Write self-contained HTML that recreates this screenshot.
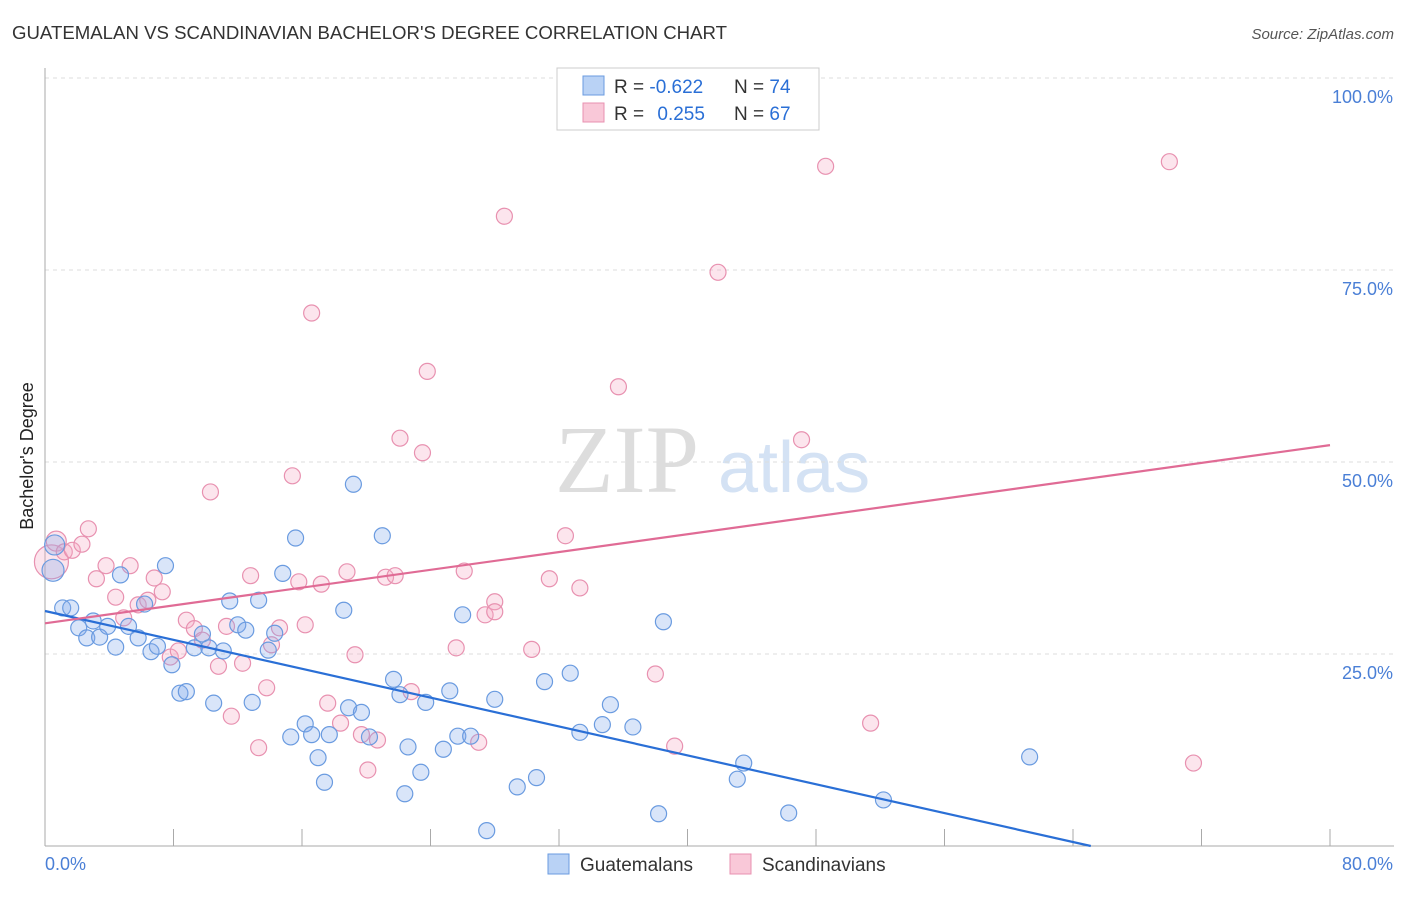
<!DOCTYPE html>
<html><head><meta charset="utf-8"><style>
body{margin:0;background:#fff;font-family:"Liberation Sans",sans-serif;}
#wrap{position:relative;width:1406px;height:892px;}
</style></head><body>
<div id="wrap">
<svg id="svg" width="1406" height="892" xmlns="http://www.w3.org/2000/svg">
<text x="12" y="39" font-size="18" fill="#333" textLength="715" lengthAdjust="spacingAndGlyphs">GUATEMALAN VS SCANDINAVIAN BACHELOR'S DEGREE CORRELATION CHART</text>
<text x="1394" y="39" font-size="15" fill="#555" text-anchor="end" font-style="italic">Source: ZipAtlas.com</text>
<text x="0" y="0" font-size="18" fill="#222" transform="translate(33,456) rotate(-90)" text-anchor="middle">Bachelor's Degree</text>
<text x="555" y="492" font-size="96" fill="#ddd" font-family="Liberation Serif,serif">ZIP</text>
<text x="718" y="492" font-size="72" fill="#d4e2f4">atlas</text>
<g id="grid"></g><g id="pts"></g><g id="lines"></g>
<rect x="557" y="68" width="262" height="62" fill="#fff" stroke="#ccc"/>
<rect x="583" y="76" width="21" height="19" fill="#b9d2f5" stroke="#6a9be0"/>
<rect x="583" y="103" width="21" height="19" fill="#f9c8d8" stroke="#e891b0"/>
<text x="614" y="93" font-size="19" fill="#333">R = <tspan fill="#2a6fd6">-0.622</tspan></text>
<text x="734" y="93" font-size="19" fill="#333">N = <tspan fill="#2a6fd6">74</tspan></text>
<text x="614" y="120" font-size="19" fill="#333">R = <tspan fill="#2a6fd6" dx="8">0.255</tspan></text>
<text x="734" y="120" font-size="19" fill="#333">N = <tspan fill="#2a6fd6">67</tspan></text>
<rect x="548" y="854" width="21" height="20" fill="#b9d2f5" stroke="#6a9be0"/>
<text x="580" y="871" font-size="19" fill="#333">Guatemalans</text>
<rect x="730" y="854" width="21" height="20" fill="#f9c8d8" stroke="#e891b0"/>
<text x="762" y="871" font-size="19" fill="#333">Scandinavians</text>
<text x="45" y="870" font-size="18" fill="#4a7fd6">0.0%</text>
<text x="1393" y="870" font-size="18" fill="#4a7fd6" text-anchor="end">80.0%</text>
</svg></div>
<script>
const yTicks=[25,50,75,100];
const yTickLabels=["25.0%","50.0%","75.0%","100.0%"];
const xTicks=[0,8,16,24,32,40,48,56,64,72,80];
const blueX=[0.5,0.6,1.1,1.6,2.1,2.6,3.0,3.4,3.9,4.4,4.7,5.2,5.8,6.2,6.6,7.0,7.5,7.9,8.4,8.8,9.3,9.8,10.2,10.5,11.1,11.5,12.0,12.5,12.9,13.3,13.9,14.3,14.8,15.3,15.6,16.2,16.6,17.0,17.4,17.7,18.6,18.9,19.2,19.7,20.2,21.0,21.7,22.1,22.4,22.6,23.4,23.7,24.8,25.2,25.7,26.0,26.5,27.5,28.0,29.4,30.6,31.1,32.7,33.3,34.7,35.2,36.6,38.2,38.5,43.1,43.5,46.3,52.2,61.3];
const blueY=[35.9,39.2,31.0,31.0,28.4,27.1,29.3,27.2,28.6,25.9,35.3,28.6,27.1,31.5,25.3,26.0,36.5,23.6,19.9,20.1,25.8,27.6,25.8,18.6,25.4,31.9,28.8,28.1,18.7,32.0,25.5,27.7,35.5,14.2,40.1,15.9,14.5,11.5,8.3,14.5,30.7,18.0,47.1,17.4,14.2,40.4,21.7,19.7,6.8,12.9,9.6,18.7,12.6,20.2,14.3,30.1,14.3,2.0,19.1,7.7,8.9,21.4,22.5,14.8,15.8,18.4,15.5,4.2,29.2,8.7,10.8,4.3,6.0,11.6];
const blueSize=[11,10];
const pinkX=[0.4,0.7,1.2,1.7,2.3,2.7,3.2,3.8,4.4,4.9,5.3,5.8,6.4,6.8,7.3,7.8,8.3,8.8,9.3,9.8,10.3,10.8,11.3,11.6,12.3,12.8,13.3,13.8,14.1,14.6,15.4,15.8,16.2,16.6,17.2,17.6,18.4,18.8,19.3,19.7,20.1,20.7,21.2,21.8,22.1,22.8,23.5,23.8,25.6,26.1,27.0,27.4,28.0,28.0,28.6,30.3,31.4,32.4,33.3,35.7,38.0,39.2,41.9,47.1,48.6,51.4,70.0,71.5];
const pinkY=[37.0,39.7,38.3,38.5,39.3,41.3,34.8,36.5,32.4,29.7,36.5,31.4,32.0,34.9,33.1,24.6,25.4,29.4,28.3,26.8,46.1,23.4,28.6,16.9,23.8,35.2,12.8,20.6,26.2,28.4,48.2,34.4,28.8,69.4,34.1,18.6,16.0,35.7,24.9,14.5,9.9,13.8,35.0,35.2,53.1,20.1,51.2,61.8,25.8,35.8,13.5,30.1,31.8,30.5,82.0,25.6,34.8,40.4,33.6,59.8,22.4,13.0,74.7,52.9,88.5,16.0,89.1,10.8];
const pinkSize=[17,10];
const blueTrend=[30.6,-0.47];
const pinkTrend=[29.0,0.29];
const NS="http://www.w3.org/2000/svg";
const X=v=>45+v/80*1285, Y=v=>846-v/100*768;
function mk(t,a,p){const e=document.createElementNS(NS,t);for(const k in a)e.setAttribute(k,a[k]);p.appendChild(e);return e;}
const grid=document.getElementById('grid'),pts=document.getElementById('pts'),lines=document.getElementById('lines');
yTicks.forEach((v,i)=>{
 const l=mk('line',{x1:45,x2:1394,y1:Y(v),y2:Y(v),stroke:'#ddd','stroke-dasharray':'4,4'},grid);
 
 
 const t=mk('text',{x:1393,y:Y(v)+25,'font-size':18,fill:'#4a7fd6','text-anchor':'end'},grid);
 t.textContent=yTickLabels[i];
 
 
});
const ax=mk('line',{x1:45,x2:45,y1:68,y2:846,stroke:'#aaa'},grid);


const bx=mk('line',{x1:45,x2:1394,y1:846,y2:846,stroke:'#aaa'},grid);


xTicks.forEach(v=>{
 const t=mk('line',{x1:X(v),x2:X(v),y1:829,y2:846,stroke:'#aaa'},grid);
 
 
});
function dots(xs,ys,sz,fill,stroke,name){
 xs.forEach((x,i)=>{
  const c=mk('circle',{cx:X(x),cy:Y(ys[i]),r:sz[i]||8,fill:fill,stroke:stroke,'stroke-width':1.2},pts);
  
  
 });
}
dots(pinkX,pinkY,pinkSize,'rgba(245,170,195,0.3)','#e891b0','scandinavian-point');
dots(blueX,blueY,blueSize,'rgba(130,170,235,0.3)','#6a9be0','guatemalan-point');
const b1=-blueTrend[0]/blueTrend[1];
const bl=mk('line',{x1:X(0),y1:Y(blueTrend[0]),x2:X(b1),y2:Y(0),stroke:'#2a6fd6','stroke-width':2.2},lines);


const pl=mk('line',{x1:X(0),y1:Y(pinkTrend[0]),x2:X(80),y2:Y(pinkTrend[0]+80*pinkTrend[1]),stroke:'#e06b95','stroke-width':2.2},lines);


</script>
</body></html>
